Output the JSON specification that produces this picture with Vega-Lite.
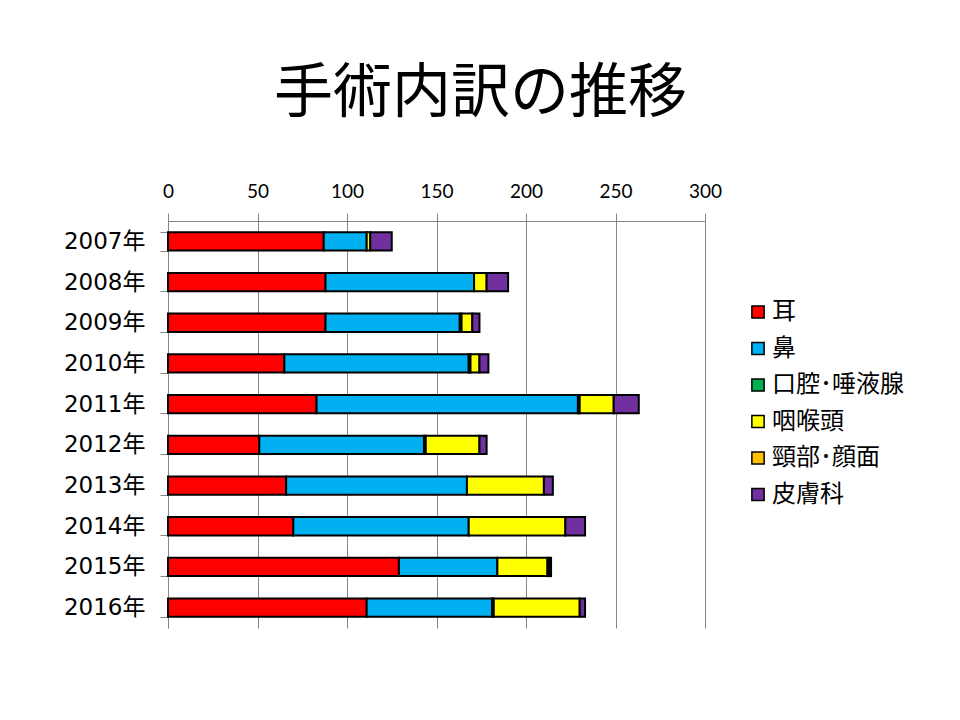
{
  "$schema": "https://vega.github.io/schema/vega-lite/v6.json",
  "width": 537,
  "height": 407,
  "autosize": "none",
  "padding": {"left": 168, "top": 221, "right": 255, "bottom": 92},
  "background": "white",
  "title": {
    "text": "手術内訳の推移",
    "font": "Noto Sans CJK JP",
    "fontSize": 59,
    "fontWeight": "normal",
    "color": "black",
    "anchor": "middle",
    "frame": "group",
    "dx": 44,
    "offset": 58
  },
  "data": {
    "values": [
      {"year": "2007年", "cat": "耳", "k": 1, "v": 87},
      {"year": "2007年", "cat": "鼻", "k": 2, "v": 24},
      {"year": "2007年", "cat": "咽喉頭", "k": 4, "v": 2},
      {"year": "2007年", "cat": "皮膚科", "k": 6, "v": 12},
      {"year": "2008年", "cat": "耳", "k": 1, "v": 88},
      {"year": "2008年", "cat": "鼻", "k": 2, "v": 83},
      {"year": "2008年", "cat": "咽喉頭", "k": 4, "v": 7},
      {"year": "2008年", "cat": "皮膚科", "k": 6, "v": 12},
      {"year": "2009年", "cat": "耳", "k": 1, "v": 88},
      {"year": "2009年", "cat": "鼻", "k": 2, "v": 75},
      {"year": "2009年", "cat": "口腔･唾液腺", "k": 3, "v": 1},
      {"year": "2009年", "cat": "咽喉頭", "k": 4, "v": 6},
      {"year": "2009年", "cat": "皮膚科", "k": 6, "v": 4},
      {"year": "2010年", "cat": "耳", "k": 1, "v": 65},
      {"year": "2010年", "cat": "鼻", "k": 2, "v": 103},
      {"year": "2010年", "cat": "口腔･唾液腺", "k": 3, "v": 1},
      {"year": "2010年", "cat": "咽喉頭", "k": 4, "v": 5},
      {"year": "2010年", "cat": "皮膚科", "k": 6, "v": 5},
      {"year": "2011年", "cat": "耳", "k": 1, "v": 83},
      {"year": "2011年", "cat": "鼻", "k": 2, "v": 146},
      {"year": "2011年", "cat": "口腔･唾液腺", "k": 3, "v": 1},
      {"year": "2011年", "cat": "咽喉頭", "k": 4, "v": 19},
      {"year": "2011年", "cat": "皮膚科", "k": 6, "v": 14},
      {"year": "2012年", "cat": "耳", "k": 1, "v": 51},
      {"year": "2012年", "cat": "鼻", "k": 2, "v": 92},
      {"year": "2012年", "cat": "口腔･唾液腺", "k": 3, "v": 1},
      {"year": "2012年", "cat": "咽喉頭", "k": 4, "v": 30},
      {"year": "2012年", "cat": "皮膚科", "k": 6, "v": 4},
      {"year": "2013年", "cat": "耳", "k": 1, "v": 66},
      {"year": "2013年", "cat": "鼻", "k": 2, "v": 101},
      {"year": "2013年", "cat": "咽喉頭", "k": 4, "v": 43},
      {"year": "2013年", "cat": "皮膚科", "k": 6, "v": 5},
      {"year": "2014年", "cat": "耳", "k": 1, "v": 70},
      {"year": "2014年", "cat": "鼻", "k": 2, "v": 98},
      {"year": "2014年", "cat": "咽喉頭", "k": 4, "v": 54},
      {"year": "2014年", "cat": "皮膚科", "k": 6, "v": 11},
      {"year": "2015年", "cat": "耳", "k": 1, "v": 129},
      {"year": "2015年", "cat": "鼻", "k": 2, "v": 55},
      {"year": "2015年", "cat": "咽喉頭", "k": 4, "v": 28},
      {"year": "2015年", "cat": "頸部･顔面", "k": 5, "v": 1},
      {"year": "2015年", "cat": "皮膚科", "k": 6, "v": 1},
      {"year": "2016年", "cat": "耳", "k": 1, "v": 111},
      {"year": "2016年", "cat": "鼻", "k": 2, "v": 70},
      {"year": "2016年", "cat": "口腔･唾液腺", "k": 3, "v": 1},
      {"year": "2016年", "cat": "咽喉頭", "k": 4, "v": 48},
      {"year": "2016年", "cat": "皮膚科", "k": 6, "v": 3}
    ]
  },
  "mark": {"type": "bar", "stroke": "black", "strokeWidth": 2},
  "encoding": {
    "y": {
      "field": "year",
      "type": "nominal",
      "sort": null,
      "scale": {"paddingInner": 0.55, "paddingOuter": 0.275},
      "axis": {
        "title": null,
        "orient": "left",
        "domainColor": "#868686",
        "tickColor": "#868686",
        "tickSize": 8,
        "tickBand": "extent",
        "labelFont": "DejaVu Sans, Noto Sans CJK JP",
        "labelFontSize": 23,
        "labelColor": "black",
        "labelPadding": 15,
        "grid": false
      }
    },
    "x": {
      "field": "v",
      "type": "quantitative",
      "aggregate": "sum",
      "stack": "zero",
      "scale": {"domain": [0, 300], "nice": false},
      "axis": {
        "title": null,
        "orient": "top",
        "values": [0, 50, 100, 150, 200, 250, 300],
        "domainColor": "#868686",
        "tickColor": "#868686",
        "tickSize": 8,
        "gridColor": "#868686",
        "gridOpacity": 1,
        "grid": true,
        "labelFont": "Lato",
        "labelFontSize": 19,
        "labelColor": "black",
        "labelPadding": 12,
        "labelFlush": false
      }
    },
    "color": {
      "field": "cat",
      "type": "nominal",
      "scale": {
        "domain": ["耳", "鼻", "口腔･唾液腺", "咽喉頭", "頸部･顔面", "皮膚科"],
        "range": ["#FF0000", "#00B0F0", "#00B050", "#FFFF00", "#FFC000", "#7030A0"]
      },
      "legend": {
        "title": null,
        "orient": "none",
        "legendX": 578,
        "legendY": 79,
        "symbolType": "square",
        "symbolSize": 150,
        "symbolStrokeColor": "black",
        "symbolStrokeWidth": 1.5,
        "labelFont": "Noto Sans CJK JP",
        "labelFontSize": 24,
        "labelColor": "black",
        "labelOffset": 2,
        "rowPadding": 12.5
      }
    },
    "order": {"field": "k", "type": "quantitative", "aggregate": "min"}
  },
  "config": {"view": {"stroke": null}}
}
